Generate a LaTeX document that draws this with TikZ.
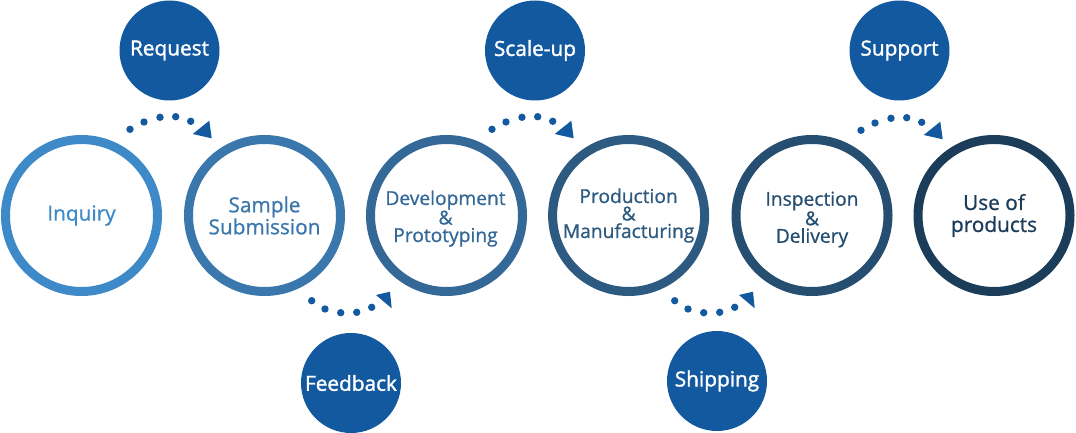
\documentclass[tikz,border=0pt]{standalone}
\usepackage{fontspec}
\setmainfont{Open Sans}
\newfontfamily\bubfont[FakeBold=1.6]{Open Sans}
\newfontfamily\ringfont[FakeBold=0.9]{Open Sans}
\usetikzlibrary{calc}
\definecolor{cA}{HTML}{3E8AC8}
\definecolor{cB}{HTML}{3977AC}
\definecolor{cC}{HTML}{346897}
\definecolor{cD}{HTML}{2D5A80}
\definecolor{cE}{HTML}{264E70}
\definecolor{cF}{HTML}{1C3D5A}
\definecolor{bluefill}{HTML}{1259A0}
\newcommand\toparcdots[1]{%
  \foreach \dx/\dy in {-38/51.2,-24/58.5,-8/63.2,7.7/63.8,22.7/59.2}
    \fill[dotmark] ($(#1)+(\dx,\dy)$) circle[radius=3.7];
  \fill[dotmark] ($(#1)+(24.7,46.5)$) -- ($(#1)+(41.3,59.8)$) -- ($(#1)+(43.7,42.2)$) -- cycle;
}
\newcommand\botarcdots[1]{%
  \foreach \dx/\dy in {-36.3/-46.7,-23/-55,-7.3/-58.7,8.7/-58.3,23.7/-53.3}
    \fill[dotmark] ($(#1)+(\dx,\dy)$) circle[radius=3.7];
  \fill[dotmark] ($(#1)+(28,-41)$) -- ($(#1)+(42,-37.7)$) -- ($(#1)+(43.7,-54.3)$) -- cycle;
}
\begin{document}
\begin{tikzpicture}[x=1pt,y=1pt,
  ring/.style={circle, draw=#1, line width=9pt, minimum size=152pt, inner sep=0pt},
  ringtext/.style={text=#1, align=center, inner sep=0pt},
  twoline/.style={font=\ringfont\fontsize{20.8}{22}\selectfont},
  threeline/.style={font=\ringfont\fontsize{19.2}{17.5}\selectfont},
  bub/.style={circle, fill=bluefill, minimum size=100pt, inner sep=0pt, text=white,
    font=\bubfont\fontsize{20.8}{22}\selectfont},
  dotmark/.style={fill=bluefill}]
\useasboundingbox (0,0) rectangle (1076,432);
% main rings
\node[ring=cA] (inq) at (81.5,216.5) {};
\node[ring=cB] (smp) at (264.5,216.5) {};
\node[ring=cC] (dev) at (446.5,216.5) {};
\node[ring=cD] (prd) at (628.6,216.5) {};
\node[ring=cE] (ins) at (812,216.5) {};
\node[ring=cF] (use) at (994,216.5) {};
% ring texts
\node[ringtext=cA, twoline] (inqt) at ($(inq.center)+(0,0)$) {Inquiry};
\node[ringtext=cB, twoline] (smpt) at ($(smp.center)+(0,0)$) {Sample\\Submission};
\node[ringtext=cC, threeline] (devt) at ($(dev.center)+(-1,-3)$) {Development\\\&\\Prototyping};
\node[ringtext=cD, threeline] (prdt) at ($(prd.center)+(0,0)$) {Production\\\&\\Manufacturing};
\node[ringtext=cE, threeline] (inst) at ($(ins.center)+(0,-4)$) {Inspection\\\&\\Delivery};
\node[ringtext=cF, twoline] (uset) at ($(use.center)+(0,0)$) {Use of\\products};
% bubbles
\node[bub] (req) at (169.5,381.5) {Request};
\node[bub] (scl) at (535,381.5) {Scale-up};
\node[bub] (sup) at (899.5,381.5) {Support};
\node[bub] (fb) at (351,49) {Feedback};
\node[bub] (shp) at (717,51) {Shipping};
% arc centres
\coordinate (a1) at ($(req.center)+(-1.5,-130)$);
\coordinate (a2) at ($(scl.center)+(-5,-130)$);
\coordinate (a3) at ($(sup.center)+(-0.5,-131)$);
\coordinate (b1) at ($(fb.center)+(-3,129)$);
\coordinate (b2) at ($(shp.center)+(-6,127)$);
\toparcdots{a1}
\toparcdots{a2}
\toparcdots{a3}
\botarcdots{b1}
\botarcdots{b2}
\end{tikzpicture}
\end{document}
